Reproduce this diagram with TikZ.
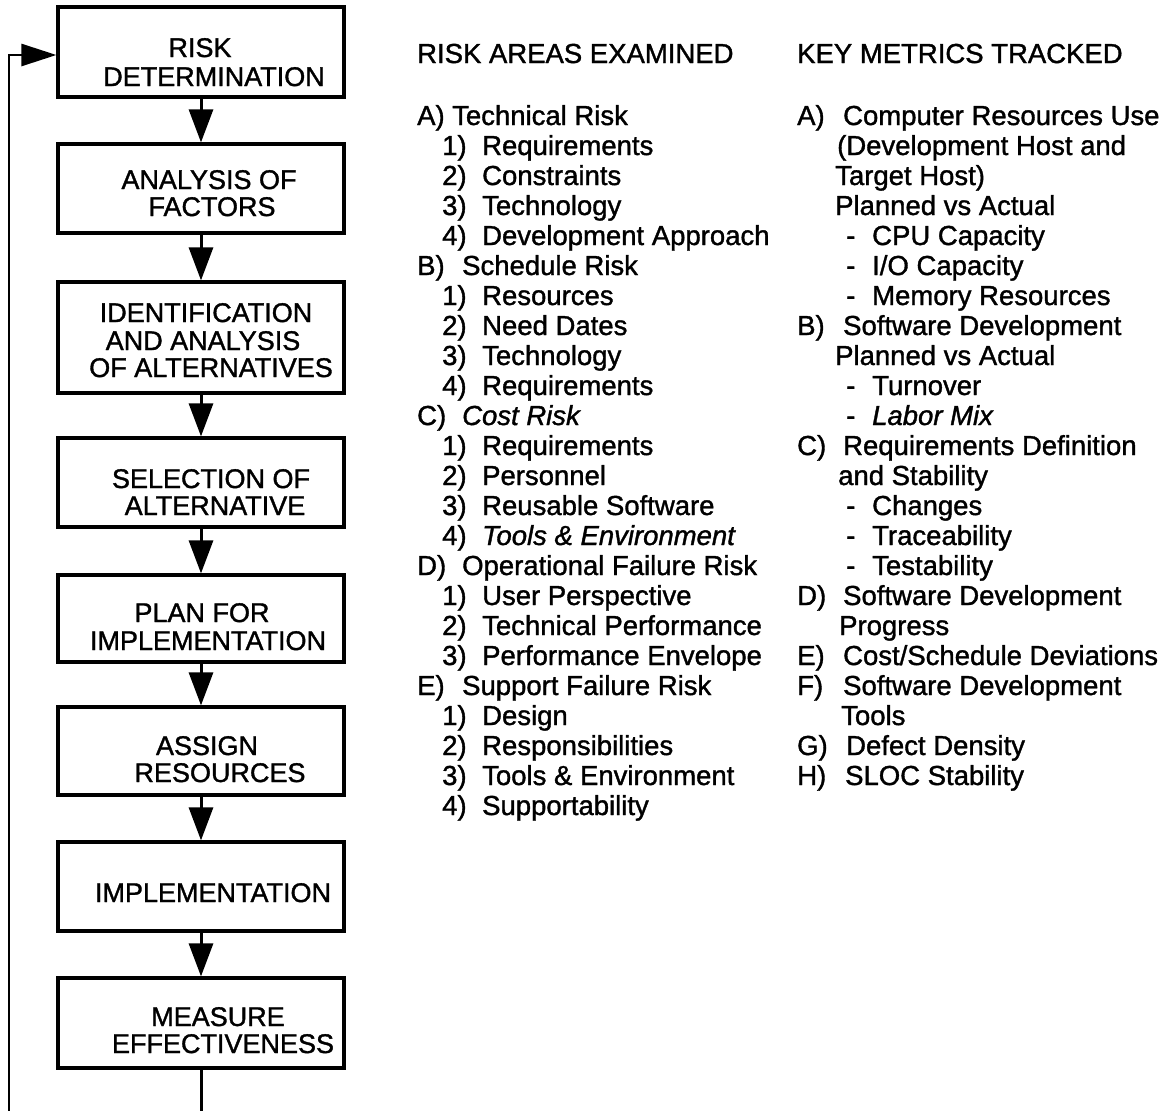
\documentclass[tikz,border=0pt]{standalone}
\usepackage{fontspec}
\setmainfont{Liberation Sans}[UprightFeatures={FakeBold=1.3}, ItalicFeatures={FakeBold=1.3}]
\usetikzlibrary{arrows.meta}

% fixed-width slot for list labels such as "A)" or "1)"
\newcommand\lbox[2]{\makebox[#1][l]{#2}}

\tikzset{
  stepbox/.style={draw, line width=3.2pt, minimum width=286pt, inner sep=0pt},
  btxt/.style={anchor=base, inner sep=0pt, font=\fontsize{27}{29}\selectfont},
  ltxt/.style={anchor=base west, inner sep=0pt, font=\fontsize{27.5}{30}\selectfont},
  flow/.style={line width=3pt, -{Triangle[length=33pt,width=24pt]}},
  plain/.style={line width=3pt},
  loopline/.style={line width=2.6pt, -{Triangle[length=35pt,width=22pt]}}
}

\begin{document}
\begin{tikzpicture}[x=1pt, y=-1pt]
\useasboundingbox (0,0) rectangle (1171,1111);

% ---- process boxes ----
\node[stepbox, minimum height=90pt]  (b1) at (201,52)    {};
\node[stepbox, minimum height=89pt]  (b2) at (201,188.5) {};
\node[stepbox, minimum height=111pt] (b3) at (201,337.5) {};
\node[stepbox, minimum height=89pt]  (b4) at (201,482.5) {};
\node[stepbox, minimum height=87pt]  (b5) at (201,618.5) {};
\node[stepbox, minimum height=88pt]  (b6) at (201,751)   {};
\node[stepbox, minimum height=89pt]  (b7) at (201,886.5) {};
\node[stepbox, minimum height=90pt]  (b8) at (201,1023)  {};

% ---- box captions ----
\node[btxt] (t1a) at (200,57)   {RISK};
\node[btxt] (t1b) at (214,86)   {DETERMINATION};
\node[btxt] (t2a) at (209,189)  {ANALYSIS OF};
\node[btxt] (t2b) at (212,216)  {FACTORS};
\node[btxt] (t3a) at (206,322)  {IDENTIFICATION};
\node[btxt] (t3b) at (203,350)  {AND ANALYSIS};
\node[btxt] (t3c) at (211,377)  {OF ALTERNATIVES};
\node[btxt] (t4a) at (211,488)  {SELECTION OF};
\node[btxt] (t4b) at (215,515)  {ALTERNATIVE};
\node[btxt] (t5a) at (202,622)  {PLAN FOR};
\node[btxt] (t5b) at (208,650)  {IMPLEMENTATION};
\node[btxt] (t6a) at (207,755)  {ASSIGN};
\node[btxt] (t6b) at (220,782)  {RESOURCES};
\node[btxt] (t7a) at (213,902)  {IMPLEMENTATION};
\node[btxt] (t8a) at (218,1026) {MEASURE};
\node[btxt] (t8b) at (223,1053) {EFFECTIVENESS};

% ---- flow connectors ----
\draw[flow] (b1.south) -- (b2.north);
\draw[flow] (b2.south) -- (b3.north);
\draw[flow] (b3.south) -- (b4.north);
\draw[flow] (b4.south) -- (b5.north);
\draw[flow] (b5.south) -- (b6.north);
\draw[flow] (b6.south) -- (b7.north);
\draw[flow] (b7.south) -- (b8.north);

\coordinate (outbot) at (201,1111);
\draw[plain] (b8.south) -- (outbot);

\coordinate (loopbot) at (9,1111);
\draw[loopline] (loopbot) |- ([yshift=-3pt]b1.west);

% ---- risk areas column ----
\node[ltxt] (rh) at (417,63) {RISK AREAS EXAMINED};
\node[ltxt] (r0)  at (417,125) {\lbox{35pt}{A)}Technical Risk};
\node[ltxt] (r1)  at (442,155) {\lbox{40pt}{1)}Requirements};
\node[ltxt] (r2)  at (442,185) {\lbox{40pt}{2)}Constraints};
\node[ltxt] (r3)  at (442,215) {\lbox{40pt}{3)}Technology};
\node[ltxt] (r4)  at (442,245) {\lbox{40pt}{4)}Development Approach};
\node[ltxt] (r5)  at (417,275) {\lbox{45pt}{B)}Schedule Risk};
\node[ltxt] (r6)  at (442,305) {\lbox{40pt}{1)}Resources};
\node[ltxt] (r7)  at (442,335) {\lbox{40pt}{2)}Need Dates};
\node[ltxt] (r8)  at (442,365) {\lbox{40pt}{3)}Technology};
\node[ltxt] (r9)  at (442,395) {\lbox{40pt}{4)}Requirements};
\node[ltxt] (r10) at (417,425) {\lbox{45pt}{C)}\itshape Cost Risk};
\node[ltxt] (r11) at (442,455) {\lbox{40pt}{1)}Requirements};
\node[ltxt] (r12) at (442,485) {\lbox{40pt}{2)}Personnel};
\node[ltxt] (r13) at (442,515) {\lbox{40pt}{3)}Reusable Software};
\node[ltxt] (r14) at (442,545) {\lbox{40pt}{4)}\itshape Tools \& Environment};
\node[ltxt] (r15) at (417,575) {\lbox{45pt}{D)}Operational Failure Risk};
\node[ltxt] (r16) at (442,605) {\lbox{40pt}{1)}User Perspective};
\node[ltxt] (r17) at (442,635) {\lbox{40pt}{2)}Technical Performance};
\node[ltxt] (r18) at (442,665) {\lbox{40pt}{3)}Performance Envelope};
\node[ltxt] (r19) at (417,695) {\lbox{45pt}{E)}Support Failure Risk};
\node[ltxt] (r20) at (442,725) {\lbox{40pt}{1)}Design};
\node[ltxt] (r21) at (442,755) {\lbox{40pt}{2)}Responsibilities};
\node[ltxt] (r22) at (442,785) {\lbox{40pt}{3)}Tools \& Environment};
\node[ltxt] (r23) at (442,815) {\lbox{40pt}{4)}Supportability};

% ---- key metrics column ----
\node[ltxt] (mh) at (797,63) {KEY METRICS TRACKED};
\node[ltxt] (m0)  at (797,125) {\lbox{46pt}{A)}Computer Resources Use};
\node[ltxt] (m1)  at (837,155) {(Development Host and};
\node[ltxt] (m2)  at (835,185) {Target Host)};
\node[ltxt] (m3)  at (835,215) {Planned vs Actual};
\node[ltxt] (m4)  at (846,245) {\lbox{26pt}{-}CPU Capacity};
\node[ltxt] (m5)  at (846,275) {\lbox{26pt}{-}I/O Capacity};
\node[ltxt] (m6)  at (846,305) {\lbox{26pt}{-}Memory Resources};
\node[ltxt] (m7)  at (797,335) {\lbox{46pt}{B)}Software Development};
\node[ltxt] (m8)  at (835,365) {Planned vs Actual};
\node[ltxt] (m9)  at (846,395) {\lbox{26pt}{-}Turnover};
\node[ltxt] (m10) at (846,425) {\lbox{26pt}{-}\itshape Labor Mix};
\node[ltxt] (m11) at (797,455) {\lbox{46pt}{C)}Requirements Definition};
\node[ltxt] (m12) at (838,485) {and Stability};
\node[ltxt] (m13) at (846,515) {\lbox{26pt}{-}Changes};
\node[ltxt] (m14) at (846,545) {\lbox{26pt}{-}Traceability};
\node[ltxt] (m15) at (846,575) {\lbox{26pt}{-}Testability};
\node[ltxt] (m16) at (797,605) {\lbox{46pt}{D)}Software Development};
\node[ltxt] (m17) at (839,635) {Progress};
\node[ltxt] (m18) at (797,665) {\lbox{46pt}{E)}Cost/Schedule Deviations};
\node[ltxt] (m19) at (797,695) {\lbox{46pt}{F)}Software Development};
\node[ltxt] (m20) at (841,725) {Tools};
\node[ltxt] (m21) at (797,755) {\lbox{49pt}{G)}Defect Density};
\node[ltxt] (m22) at (797,785) {\lbox{48pt}{H)}SLOC Stability};
\end{tikzpicture}
\end{document}
